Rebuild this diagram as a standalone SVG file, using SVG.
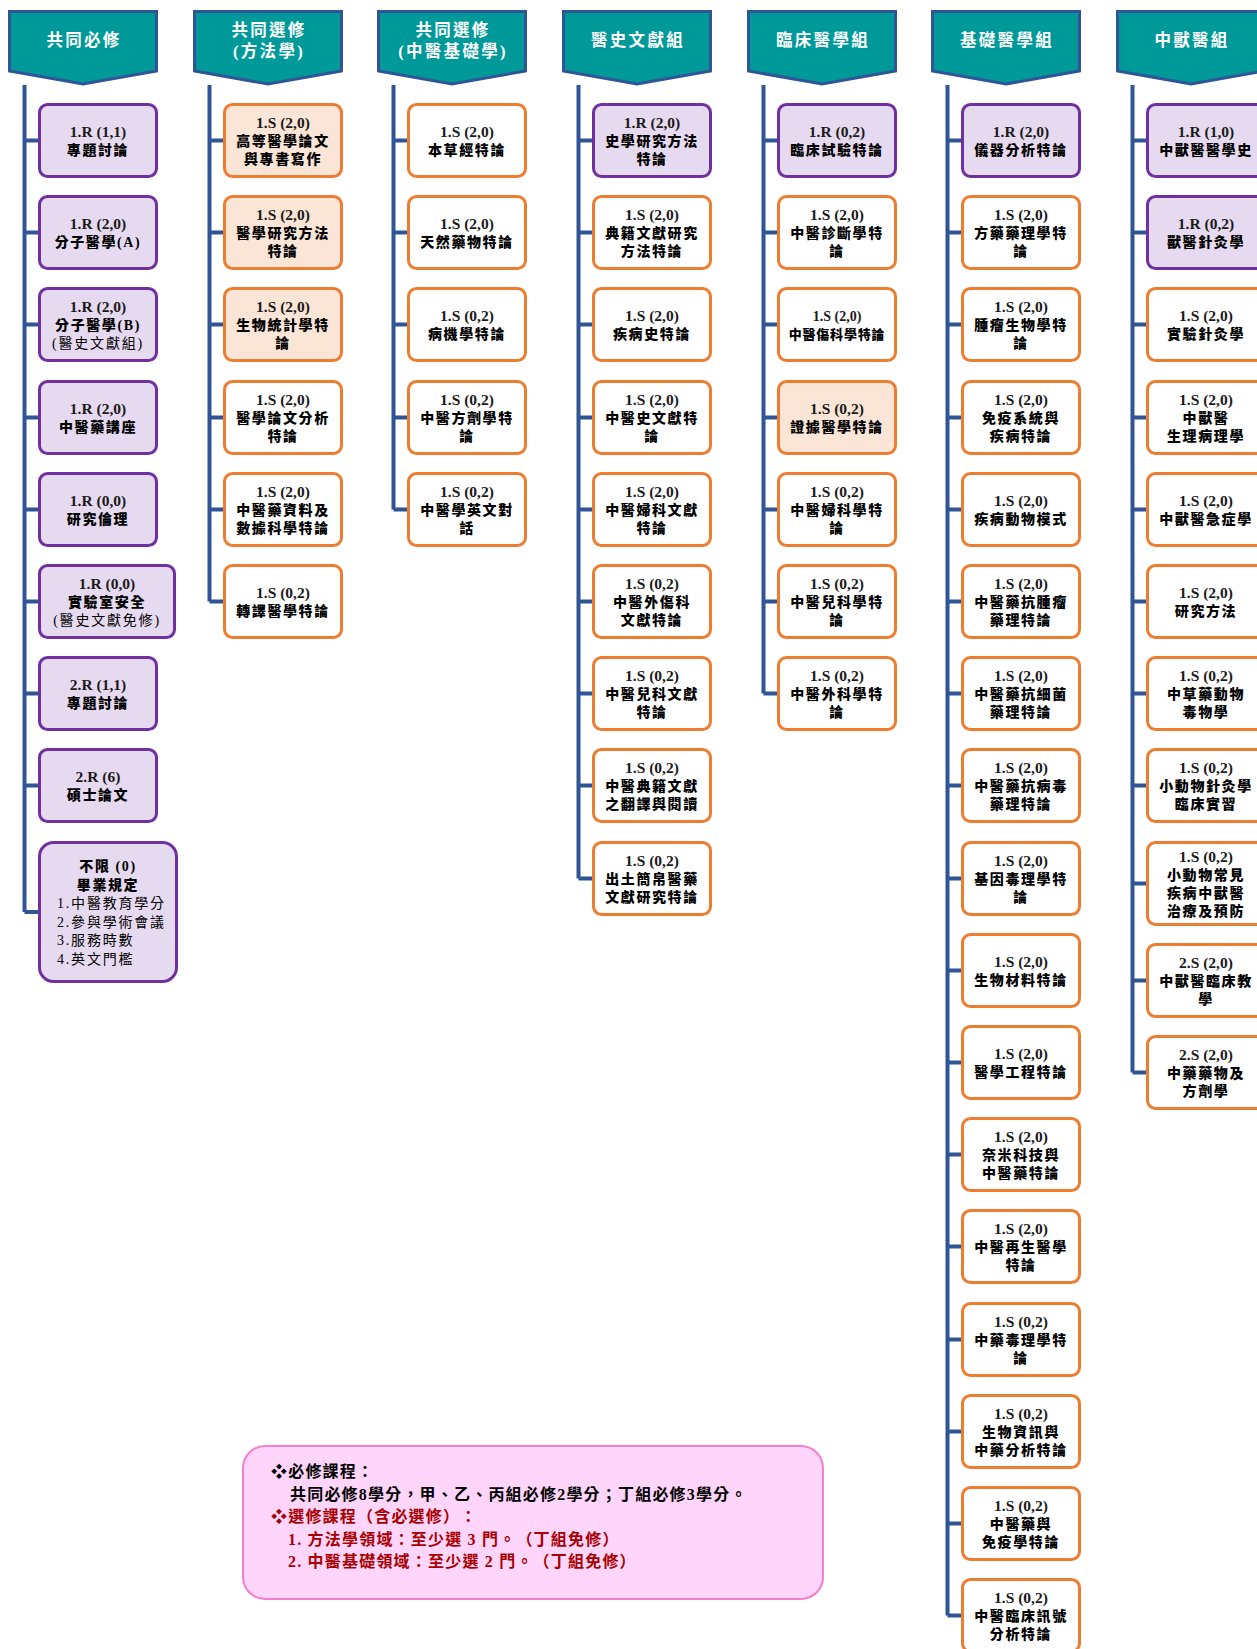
<svg xmlns="http://www.w3.org/2000/svg" xmlns:xlink="http://www.w3.org/1999/xlink" width="1257" height="1649" viewBox="0 0 1257 1649">
<style>
text{font-family:"Liberation Serif","Noto Sans CJK TC","DejaVu Sans",serif;fill:#000;text-anchor:middle;text-spacing-trim:space-all}
.hd{fill:#009999;stroke:#2F5597;stroke-width:3;stroke-linejoin:miter}
.ht{fill:#fff;font-size:16.5px;font-weight:700;letter-spacing:2.3px}
.p rect{fill:#E6DAF0;stroke:#7030A0;stroke-width:3}
.o rect{fill:#fff;stroke:#ED7D31;stroke-width:3}
.q rect{fill:#FBE5D6;stroke:#ED7D31;stroke-width:3}
.c{font-size:15.5px;font-weight:700;fill:#1a1a1a}
.z{font-size:14px;font-weight:900;letter-spacing:1.6px}
.n{font-size:14px;font-weight:400;letter-spacing:1.8px}
.conn path{fill:none;stroke:#2F5597;stroke-width:4}
.lg{font-size:16px;font-weight:700;letter-spacing:1.2px;text-anchor:start}
.red{fill:#A80000}
</style>
<defs>
<polygon id="hdp" class="hd" points="1.5,11.5 148.5,11.5 148.5,71 75,84 1.5,71"/>
</defs>

<g id="headers">
<g id="h1" transform="translate(8,0)"><use xlink:href="#hdp"/><text class="ht" x="76" y="46">共同必修</text></g>
<g id="h2" transform="translate(193,0)"><use xlink:href="#hdp"/><text class="ht" x="76" y="35.5">共同選修</text><text class="ht" x="76" y="56.5">(方法學)</text></g>
<g id="h3" transform="translate(377,0)"><use xlink:href="#hdp"/><text class="ht" x="76" y="35.5">共同選修</text><text class="ht" x="76" y="56.5">(中醫基礎學)</text></g>
<g id="h4" transform="translate(562,0)"><use xlink:href="#hdp"/><text class="ht" x="76" y="46">醫史文獻組</text></g>
<g id="h5" transform="translate(747,0)"><use xlink:href="#hdp"/><text class="ht" x="76" y="46">臨床醫學組</text></g>
<g id="h6" transform="translate(931,0)"><use xlink:href="#hdp"/><text class="ht" x="76" y="46">基礎醫學組</text></g>
<g id="h7" transform="translate(1116,0)"><use xlink:href="#hdp"/><text class="ht" x="76" y="46">中獸醫組</text></g>
</g>

<g id="connectors" class="conn">
<path d="M24.5 85V912M24.5 140.5H40M24.5 232.5H40M24.5 324.5H40M24.5 417.5H40M24.5 509.5H40M24.5 601.5H40M24.5 693.5H40M24.5 785.5H40M24.5 912H40"/>
<path d="M209.5 85V601.5M209.5 140.5H225M209.5 232.5H225M209.5 324.5H225M209.5 417.5H225M209.5 509.5H225M209.5 601.5H225"/>
<path d="M393.5 85V509.5M393.5 140.5H409M393.5 232.5H409M393.5 324.5H409M393.5 417.5H409M393.5 509.5H409"/>
<path d="M578.5 85V878.5M578.5 140.5H594M578.5 232.5H594M578.5 324.5H594M578.5 417.5H594M578.5 509.5H594M578.5 601.5H594M578.5 693.5H594M578.5 785.5H594M578.5 878.5H594"/>
<path d="M763.5 85V693.5M763.5 140.5H779M763.5 232.5H779M763.5 324.5H779M763.5 417.5H779M763.5 509.5H779M763.5 601.5H779M763.5 693.5H779"/>
<path d="M947.5 85V1615.5M947.5 140.5H963M947.5 232.5H963M947.5 324.5H963M947.5 417.5H963M947.5 509.5H963M947.5 601.5H963M947.5 693.5H963M947.5 785.5H963M947.5 878.5H963M947.5 970.5H963M947.5 1062.5H963M947.5 1154.5H963M947.5 1246.5H963M947.5 1339.5H963M947.5 1431.5H963M947.5 1523.5H963M947.5 1615.5H963"/>
<path d="M1132.5 85V1072.5M1132.5 140.5H1148M1132.5 232.5H1148M1132.5 324.5H1148M1132.5 417.5H1148M1132.5 509.5H1148M1132.5 601.5H1148M1132.5 693.5H1148M1132.5 785.5H1148M1132.5 883.5H1148M1132.5 980.5H1148M1132.5 1072.5H1148"/>
</g>

<!-- Column 1 -->
<g id="c1n0" class="p" transform="translate(38,103)"><rect x="1.5" y="1.5" width="117" height="72" rx="8"/><text><tspan class="c" x="60" y="33.5">1.R (1,1)</tspan><tspan class="z" x="60" y="51.5">專題討論</tspan></text></g>
<g id="c1n1" class="p" transform="translate(38,195)"><rect x="1.5" y="1.5" width="117" height="72" rx="8"/><text><tspan class="c" x="60" y="33.5">1.R (2,0)</tspan><tspan class="z" x="60" y="51.5">分子醫學(A)</tspan></text></g>
<g id="c1n2" class="p" transform="translate(38,287)"><rect x="1.5" y="1.5" width="117" height="72" rx="8"/><text><tspan class="c" x="60" y="24.5">1.R (2,0)</tspan><tspan class="z" x="60" y="42.5">分子醫學(B)</tspan><tspan class="n" x="60" y="60.5">(醫史文獻組)</tspan></text></g>
<g id="c1n3" class="p" transform="translate(38,380)"><rect x="1.5" y="1.5" width="117" height="72" rx="8"/><text><tspan class="c" x="60" y="33.5">1.R (2,0)</tspan><tspan class="z" x="60" y="51.5">中醫藥講座</tspan></text></g>
<g id="c1n4" class="p" transform="translate(38,472)"><rect x="1.5" y="1.5" width="117" height="72" rx="8"/><text><tspan class="c" x="60" y="33.5">1.R (0,0)</tspan><tspan class="z" x="60" y="51.5">研究倫理</tspan></text></g>
<g id="c1n5" class="p" transform="translate(38,564)"><rect x="1.5" y="1.5" width="135" height="72" rx="8"/><text><tspan class="c" x="69" y="24.5">1.R (0,0)</tspan><tspan class="z" x="69" y="42.5">實驗室安全</tspan><tspan class="n" x="69" y="60.5">(醫史文獻免修)</tspan></text></g>
<g id="c1n6" class="p" transform="translate(38,656)"><rect x="1.5" y="1.5" width="117" height="72" rx="8"/><text><tspan class="c" x="60" y="33.5">2.R (1,1)</tspan><tspan class="z" x="60" y="51.5">專題討論</tspan></text></g>
<g id="c1n7" class="p" transform="translate(38,748)"><rect x="1.5" y="1.5" width="117" height="72" rx="8"/><text><tspan class="c" x="60" y="33.5">2.R (6)</tspan><tspan class="z" x="60" y="51.5">碩士論文</tspan></text></g>
<g id="c1n8" class="p" transform="translate(38,841)"><rect x="1.5" y="1.5" width="137" height="139" rx="14"/><text><tspan class="z" x="70" y="30">不限 (0)</tspan><tspan class="z" x="70" y="48.5">畢業規定</tspan></text><text class="n" style="text-anchor:start"><tspan x="19" y="67">1.中醫教育學分</tspan><tspan x="19" y="85.5">2.參與學術會議</tspan><tspan x="19" y="104">3.服務時數</tspan><tspan x="19" y="122.5">4.英文門檻</tspan></text></g>

<!-- Column 2 -->
<g id="c2n0" class="q" transform="translate(223,103)"><rect x="1.5" y="1.5" width="117" height="72" rx="8"/><text><tspan class="c" x="60" y="24.5">1.S (2,0)</tspan><tspan class="z" x="60" y="42.5">高等醫學論文</tspan><tspan class="z" x="60" y="60.5">與專書寫作</tspan></text></g>
<g id="c2n1" class="q" transform="translate(223,195)"><rect x="1.5" y="1.5" width="117" height="72" rx="8"/><text><tspan class="c" x="60" y="24.5">1.S (2,0)</tspan><tspan class="z" x="60" y="42.5">醫學研究方法</tspan><tspan class="z" x="60" y="60.5">特論</tspan></text></g>
<g id="c2n2" class="q" transform="translate(223,287)"><rect x="1.5" y="1.5" width="117" height="72" rx="8"/><text><tspan class="c" x="60" y="24.5">1.S (2,0)</tspan><tspan class="z" x="60" y="42.5">生物統計學特</tspan><tspan class="z" x="60" y="60.5">論</tspan></text></g>
<g id="c2n3" class="o" transform="translate(223,380)"><rect x="1.5" y="1.5" width="117" height="72" rx="8"/><text><tspan class="c" x="60" y="24.5">1.S (2,0)</tspan><tspan class="z" x="60" y="42.5">醫學論文分析</tspan><tspan class="z" x="60" y="60.5">特論</tspan></text></g>
<g id="c2n4" class="o" transform="translate(223,472)"><rect x="1.5" y="1.5" width="117" height="72" rx="8"/><text><tspan class="c" x="60" y="24.5">1.S (2,0)</tspan><tspan class="z" x="60" y="42.5">中醫藥資料及</tspan><tspan class="z" x="60" y="60.5">數據科學特論</tspan></text></g>
<g id="c2n5" class="o" transform="translate(223,564)"><rect x="1.5" y="1.5" width="117" height="72" rx="8"/><text><tspan class="c" x="60" y="33.5">1.S (0,2)</tspan><tspan class="z" x="60" y="51.5">轉譯醫學特論</tspan></text></g>

<!-- Column 3 -->
<g id="c3n0" class="o" transform="translate(407,103)"><rect x="1.5" y="1.5" width="117" height="72" rx="8"/><text><tspan class="c" x="60" y="33.5">1.S (2,0)</tspan><tspan class="z" x="60" y="51.5">本草經特論</tspan></text></g>
<g id="c3n1" class="o" transform="translate(407,195)"><rect x="1.5" y="1.5" width="117" height="72" rx="8"/><text><tspan class="c" x="60" y="33.5">1.S (2,0)</tspan><tspan class="z" x="60" y="51.5">天然藥物特論</tspan></text></g>
<g id="c3n2" class="o" transform="translate(407,287)"><rect x="1.5" y="1.5" width="117" height="72" rx="8"/><text><tspan class="c" x="60" y="33.5">1.S (0,2)</tspan><tspan class="z" x="60" y="51.5">病機學特論</tspan></text></g>
<g id="c3n3" class="o" transform="translate(407,380)"><rect x="1.5" y="1.5" width="117" height="72" rx="8"/><text><tspan class="c" x="60" y="24.5">1.S (0,2)</tspan><tspan class="z" x="60" y="42.5">中醫方劑學特</tspan><tspan class="z" x="60" y="60.5">論</tspan></text></g>
<g id="c3n4" class="o" transform="translate(407,472)"><rect x="1.5" y="1.5" width="117" height="72" rx="8"/><text><tspan class="c" x="60" y="24.5">1.S (0,2)</tspan><tspan class="z" x="60" y="42.5">中醫學英文對</tspan><tspan class="z" x="60" y="60.5">話</tspan></text></g>

<!-- Column 4 -->
<g id="c4n0" class="p" transform="translate(592,103)"><rect x="1.5" y="1.5" width="117" height="72" rx="8"/><text><tspan class="c" x="60" y="24.5">1.R (2,0)</tspan><tspan class="z" x="60" y="42.5">史學研究方法</tspan><tspan class="z" x="60" y="60.5">特論</tspan></text></g>
<g id="c4n1" class="o" transform="translate(592,195)"><rect x="1.5" y="1.5" width="117" height="72" rx="8"/><text><tspan class="c" x="60" y="24.5">1.S (2,0)</tspan><tspan class="z" x="60" y="42.5">典籍文獻研究</tspan><tspan class="z" x="60" y="60.5">方法特論</tspan></text></g>
<g id="c4n2" class="o" transform="translate(592,287)"><rect x="1.5" y="1.5" width="117" height="72" rx="8"/><text><tspan class="c" x="60" y="33.5">1.S (2,0)</tspan><tspan class="z" x="60" y="51.5">疾病史特論</tspan></text></g>
<g id="c4n3" class="o" transform="translate(592,380)"><rect x="1.5" y="1.5" width="117" height="72" rx="8"/><text><tspan class="c" x="60" y="24.5">1.S (2,0)</tspan><tspan class="z" x="60" y="42.5">中醫史文獻特</tspan><tspan class="z" x="60" y="60.5">論</tspan></text></g>
<g id="c4n4" class="o" transform="translate(592,472)"><rect x="1.5" y="1.5" width="117" height="72" rx="8"/><text><tspan class="c" x="60" y="24.5">1.S (2,0)</tspan><tspan class="z" x="60" y="42.5">中醫婦科文獻</tspan><tspan class="z" x="60" y="60.5">特論</tspan></text></g>
<g id="c4n5" class="o" transform="translate(592,564)"><rect x="1.5" y="1.5" width="117" height="72" rx="8"/><text><tspan class="c" x="60" y="24.5">1.S (0,2)</tspan><tspan class="z" x="60" y="42.5">中醫外傷科</tspan><tspan class="z" x="60" y="60.5">文獻特論</tspan></text></g>
<g id="c4n6" class="o" transform="translate(592,656)"><rect x="1.5" y="1.5" width="117" height="72" rx="8"/><text><tspan class="c" x="60" y="24.5">1.S (0,2)</tspan><tspan class="z" x="60" y="42.5">中醫兒科文獻</tspan><tspan class="z" x="60" y="60.5">特論</tspan></text></g>
<g id="c4n7" class="o" transform="translate(592,748)"><rect x="1.5" y="1.5" width="117" height="72" rx="8"/><text><tspan class="c" x="60" y="24.5">1.S (0,2)</tspan><tspan class="z" x="60" y="42.5">中醫典籍文獻</tspan><tspan class="z" x="60" y="60.5">之翻譯與閱讀</tspan></text></g>
<g id="c4n8" class="o" transform="translate(592,841)"><rect x="1.5" y="1.5" width="117" height="72" rx="8"/><text><tspan class="c" x="60" y="24.5">1.S (0,2)</tspan><tspan class="z" x="60" y="42.5">出土簡帛醫藥</tspan><tspan class="z" x="60" y="60.5">文獻研究特論</tspan></text></g>

<!-- Column 5 -->
<g id="c5n0" class="p" transform="translate(777,103)"><rect x="1.5" y="1.5" width="117" height="72" rx="8"/><text><tspan class="c" x="60" y="33.5">1.R (0,2)</tspan><tspan class="z" x="60" y="51.5">臨床試驗特論</tspan></text></g>
<g id="c5n1" class="o" transform="translate(777,195)"><rect x="1.5" y="1.5" width="117" height="72" rx="8"/><text><tspan class="c" x="60" y="24.5">1.S (2,0)</tspan><tspan class="z" x="60" y="42.5">中醫診斷學特</tspan><tspan class="z" x="60" y="60.5">論</tspan></text></g>
<g id="c5n2" class="o" transform="translate(777,287)"><rect x="1.5" y="1.5" width="117" height="72" rx="8"/><text><tspan class="c" x="60" y="33.5" style="font-size:14px">1.S (2,0)</tspan><tspan class="z" x="60" y="51.5" style="font-size:13px;letter-spacing:0.8px">中醫傷科學特論</tspan></text></g>
<g id="c5n3" class="q" transform="translate(777,380)"><rect x="1.5" y="1.5" width="117" height="72" rx="8"/><text><tspan class="c" x="60" y="33.5">1.S (0,2)</tspan><tspan class="z" x="60" y="51.5">證據醫學特論</tspan></text></g>
<g id="c5n4" class="o" transform="translate(777,472)"><rect x="1.5" y="1.5" width="117" height="72" rx="8"/><text><tspan class="c" x="60" y="24.5">1.S (0,2)</tspan><tspan class="z" x="60" y="42.5">中醫婦科學特</tspan><tspan class="z" x="60" y="60.5">論</tspan></text></g>
<g id="c5n5" class="o" transform="translate(777,564)"><rect x="1.5" y="1.5" width="117" height="72" rx="8"/><text><tspan class="c" x="60" y="24.5">1.S (0,2)</tspan><tspan class="z" x="60" y="42.5">中醫兒科學特</tspan><tspan class="z" x="60" y="60.5">論</tspan></text></g>
<g id="c5n6" class="o" transform="translate(777,656)"><rect x="1.5" y="1.5" width="117" height="72" rx="8"/><text><tspan class="c" x="60" y="24.5">1.S (0,2)</tspan><tspan class="z" x="60" y="42.5">中醫外科學特</tspan><tspan class="z" x="60" y="60.5">論</tspan></text></g>

<!-- Column 6 -->
<g id="c6n0" class="p" transform="translate(961,103)"><rect x="1.5" y="1.5" width="117" height="72" rx="8"/><text><tspan class="c" x="60" y="33.5">1.R (2,0)</tspan><tspan class="z" x="60" y="51.5">儀器分析特論</tspan></text></g>
<g id="c6n1" class="o" transform="translate(961,195)"><rect x="1.5" y="1.5" width="117" height="72" rx="8"/><text><tspan class="c" x="60" y="24.5">1.S (2,0)</tspan><tspan class="z" x="60" y="42.5">方藥藥理學特</tspan><tspan class="z" x="60" y="60.5">論</tspan></text></g>
<g id="c6n2" class="o" transform="translate(961,287)"><rect x="1.5" y="1.5" width="117" height="72" rx="8"/><text><tspan class="c" x="60" y="24.5">1.S (2,0)</tspan><tspan class="z" x="60" y="42.5">腫瘤生物學特</tspan><tspan class="z" x="60" y="60.5">論</tspan></text></g>
<g id="c6n3" class="o" transform="translate(961,380)"><rect x="1.5" y="1.5" width="117" height="72" rx="8"/><text><tspan class="c" x="60" y="24.5">1.S (2,0)</tspan><tspan class="z" x="60" y="42.5">免疫系統與</tspan><tspan class="z" x="60" y="60.5">疾病特論</tspan></text></g>
<g id="c6n4" class="o" transform="translate(961,472)"><rect x="1.5" y="1.5" width="117" height="72" rx="8"/><text><tspan class="c" x="60" y="33.5">1.S (2,0)</tspan><tspan class="z" x="60" y="51.5">疾病動物模式</tspan></text></g>
<g id="c6n5" class="o" transform="translate(961,564)"><rect x="1.5" y="1.5" width="117" height="72" rx="8"/><text><tspan class="c" x="60" y="24.5">1.S (2,0)</tspan><tspan class="z" x="60" y="42.5">中醫藥抗腫瘤</tspan><tspan class="z" x="60" y="60.5">藥理特論</tspan></text></g>
<g id="c6n6" class="o" transform="translate(961,656)"><rect x="1.5" y="1.5" width="117" height="72" rx="8"/><text><tspan class="c" x="60" y="24.5">1.S (2,0)</tspan><tspan class="z" x="60" y="42.5">中醫藥抗細菌</tspan><tspan class="z" x="60" y="60.5">藥理特論</tspan></text></g>
<g id="c6n7" class="o" transform="translate(961,748)"><rect x="1.5" y="1.5" width="117" height="72" rx="8"/><text><tspan class="c" x="60" y="24.5">1.S (2,0)</tspan><tspan class="z" x="60" y="42.5">中醫藥抗病毒</tspan><tspan class="z" x="60" y="60.5">藥理特論</tspan></text></g>
<g id="c6n8" class="o" transform="translate(961,841)"><rect x="1.5" y="1.5" width="117" height="72" rx="8"/><text><tspan class="c" x="60" y="24.5">1.S (2,0)</tspan><tspan class="z" x="60" y="42.5">基因毒理學特</tspan><tspan class="z" x="60" y="60.5">論</tspan></text></g>
<g id="c6n9" class="o" transform="translate(961,933)"><rect x="1.5" y="1.5" width="117" height="72" rx="8"/><text><tspan class="c" x="60" y="33.5">1.S (2,0)</tspan><tspan class="z" x="60" y="51.5">生物材料特論</tspan></text></g>
<g id="c6n10" class="o" transform="translate(961,1025)"><rect x="1.5" y="1.5" width="117" height="72" rx="8"/><text><tspan class="c" x="60" y="33.5">1.S (2,0)</tspan><tspan class="z" x="60" y="51.5">醫學工程特論</tspan></text></g>
<g id="c6n11" class="o" transform="translate(961,1117)"><rect x="1.5" y="1.5" width="117" height="72" rx="8"/><text><tspan class="c" x="60" y="24.5">1.S (2,0)</tspan><tspan class="z" x="60" y="42.5">奈米科技與</tspan><tspan class="z" x="60" y="60.5">中醫藥特論</tspan></text></g>
<g id="c6n12" class="o" transform="translate(961,1209)"><rect x="1.5" y="1.5" width="117" height="72" rx="8"/><text><tspan class="c" x="60" y="24.5">1.S (2,0)</tspan><tspan class="z" x="60" y="42.5">中醫再生醫學</tspan><tspan class="z" x="60" y="60.5">特論</tspan></text></g>
<g id="c6n13" class="o" transform="translate(961,1302)"><rect x="1.5" y="1.5" width="117" height="72" rx="8"/><text><tspan class="c" x="60" y="24.5">1.S (0,2)</tspan><tspan class="z" x="60" y="42.5">中藥毒理學特</tspan><tspan class="z" x="60" y="60.5">論</tspan></text></g>
<g id="c6n14" class="o" transform="translate(961,1394)"><rect x="1.5" y="1.5" width="117" height="72" rx="8"/><text><tspan class="c" x="60" y="24.5">1.S (0,2)</tspan><tspan class="z" x="60" y="42.5">生物資訊與</tspan><tspan class="z" x="60" y="60.5">中藥分析特論</tspan></text></g>
<g id="c6n15" class="o" transform="translate(961,1486)"><rect x="1.5" y="1.5" width="117" height="72" rx="8"/><text><tspan class="c" x="60" y="24.5">1.S (0,2)</tspan><tspan class="z" x="60" y="42.5">中醫藥與</tspan><tspan class="z" x="60" y="60.5">免疫學特論</tspan></text></g>
<g id="c6n16" class="o" transform="translate(961,1578)"><rect x="1.5" y="1.5" width="117" height="72" rx="8"/><text><tspan class="c" x="60" y="24.5">1.S (0,2)</tspan><tspan class="z" x="60" y="42.5">中醫臨床訊號</tspan><tspan class="z" x="60" y="60.5">分析特論</tspan></text></g>

<!-- Column 7 -->
<g id="c7n0" class="p" transform="translate(1146,103)"><rect x="1.5" y="1.5" width="117" height="72" rx="8"/><text><tspan class="c" x="60" y="33.5">1.R (1,0)</tspan><tspan class="z" x="60" y="51.5">中獸醫醫學史</tspan></text></g>
<g id="c7n1" class="p" transform="translate(1146,195)"><rect x="1.5" y="1.5" width="117" height="72" rx="8"/><text><tspan class="c" x="60" y="33.5">1.R (0,2)</tspan><tspan class="z" x="60" y="51.5">獸醫針灸學</tspan></text></g>
<g id="c7n2" class="o" transform="translate(1146,287)"><rect x="1.5" y="1.5" width="117" height="72" rx="8"/><text><tspan class="c" x="60" y="33.5">1.S (2,0)</tspan><tspan class="z" x="60" y="51.5">實驗針灸學</tspan></text></g>
<g id="c7n3" class="o" transform="translate(1146,380)"><rect x="1.5" y="1.5" width="117" height="72" rx="8"/><text><tspan class="c" x="60" y="24.5">1.S (2,0)</tspan><tspan class="z" x="60" y="42.5">中獸醫</tspan><tspan class="z" x="60" y="60.5">生理病理學</tspan></text></g>
<g id="c7n4" class="o" transform="translate(1146,472)"><rect x="1.5" y="1.5" width="117" height="72" rx="8"/><text><tspan class="c" x="60" y="33.5">1.S (2,0)</tspan><tspan class="z" x="60" y="51.5">中獸醫急症學</tspan></text></g>
<g id="c7n5" class="o" transform="translate(1146,564)"><rect x="1.5" y="1.5" width="117" height="72" rx="8"/><text><tspan class="c" x="60" y="33.5">1.S (2,0)</tspan><tspan class="z" x="60" y="51.5">研究方法</tspan></text></g>
<g id="c7n6" class="o" transform="translate(1146,656)"><rect x="1.5" y="1.5" width="117" height="72" rx="8"/><text><tspan class="c" x="60" y="24.5">1.S (0,2)</tspan><tspan class="z" x="60" y="42.5">中草藥動物</tspan><tspan class="z" x="60" y="60.5">毒物學</tspan></text></g>
<g id="c7n7" class="o" transform="translate(1146,748)"><rect x="1.5" y="1.5" width="117" height="72" rx="8"/><text><tspan class="c" x="60" y="24.5">1.S (0,2)</tspan><tspan class="z" x="60" y="42.5">小動物針灸學</tspan><tspan class="z" x="60" y="60.5">臨床實習</tspan></text></g>
<g id="c7n8" class="o" transform="translate(1146,841)"><rect x="1.5" y="1.5" width="117" height="82" rx="8"/><text><tspan class="c" x="60" y="20.5">1.S (0,2)</tspan><tspan class="z" x="60" y="38.5">小動物常見</tspan><tspan class="z" x="60" y="56.5">疾病中獸醫</tspan><tspan class="z" x="60" y="74.5">治療及預防</tspan></text></g>
<g id="c7n9" class="o" transform="translate(1146,943)"><rect x="1.5" y="1.5" width="117" height="72" rx="8"/><text><tspan class="c" x="60" y="24.5">2.S (2,0)</tspan><tspan class="z" x="60" y="42.5">中獸醫臨床教</tspan><tspan class="z" x="60" y="60.5">學</tspan></text></g>
<g id="c7n10" class="o" transform="translate(1146,1035)"><rect x="1.5" y="1.5" width="117" height="72" rx="8"/><text><tspan class="c" x="60" y="24.5">2.S (2,0)</tspan><tspan class="z" x="60" y="42.5">中藥藥物及</tspan><tspan class="z" x="60" y="60.5">方劑學</tspan></text></g>

<!-- Legend -->
<g id="legend">
<rect x="243" y="1446" width="580" height="153" rx="22" fill="#FFD5FC" stroke="#F47FCB" stroke-width="2"/>
<text class="lg" x="271" y="1477">❖必修課程：</text>
<text class="lg" x="290" y="1500">共同必修8學分，甲、乙、丙組必修2學分；丁組必修3學分。</text>
<text class="lg red" x="271" y="1522">❖選修課程（含必選修）：</text>
<text class="lg red" x="288" y="1545">1. 方法學領域：至少選 3 門。（丁組免修）</text>
<text class="lg red" x="288" y="1567">2. 中醫基礎領域：至少選 2 門。（丁組免修）</text>
</g>
</svg>
